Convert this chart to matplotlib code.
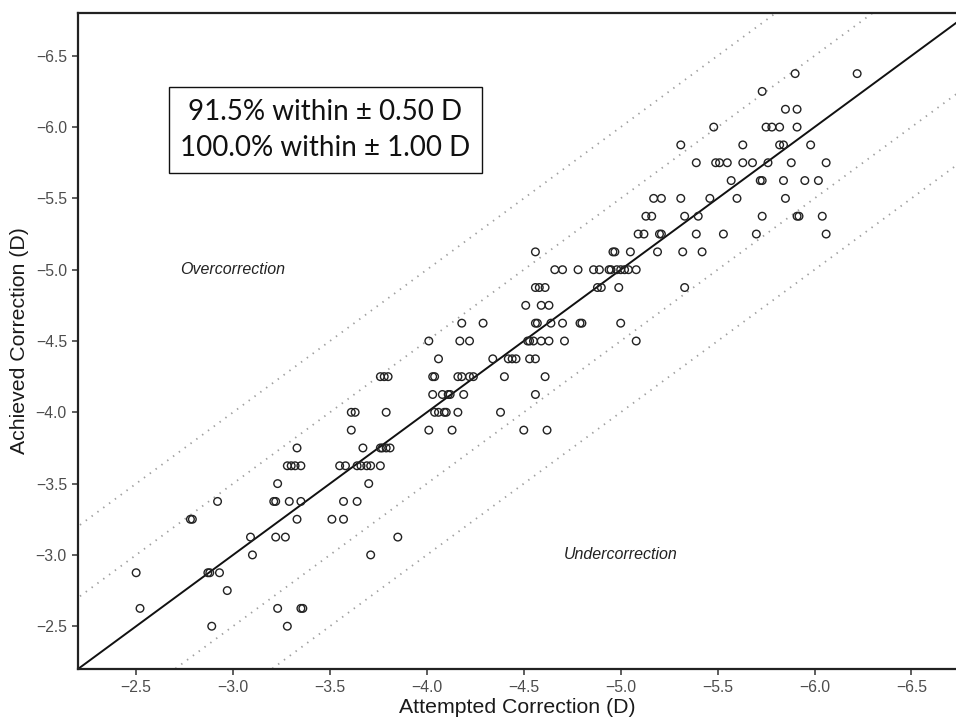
import numpy as np
import matplotlib
matplotlib.use("Agg")
import matplotlib.pyplot as plt

# achieved correction comes in 0.125 D steps, one row per level
achieved_rows = [-2.5, -2.625, -2.75, -2.875, -3.0, -3.125, -3.25, -3.375, -3.5,
                 -3.625, -3.75, -3.875, -4.0, -4.125, -4.25, -4.375, -4.5, -4.625,
                 -4.75, -4.875, -5.0, -5.125, -5.25, -5.375, -5.5, -5.625, -5.75,
                 -5.875, -6.0, -6.125, -6.25, -6.375]

attempted_rows = [
    [-2.89, -3.28],
    [-2.52, -3.23, -3.35, -3.36],
    [-2.97],
    [-2.50, -2.87, -2.88, -2.93],
    [-3.10, -3.71],
    [-3.09, -3.22, -3.27, -3.85],
    [-2.78, -2.79, -3.33, -3.51, -3.57],
    [-2.92, -3.21, -3.22, -3.29, -3.35, -3.57, -3.64],
    [-3.23, -3.70],
    [-3.28, -3.30, -3.32, -3.35, -3.55, -3.58, -3.64, -3.66, -3.69, -3.71, -3.76],
    [-3.33, -3.67, -3.76, -3.77, -3.79, -3.81],
    [-3.61, -4.01, -4.13, -4.50, -4.62],
    [-3.61, -3.63, -3.79, -4.04, -4.06, -4.09, -4.10, -4.16, -4.38],
    [-4.03, -4.08, -4.11, -4.12, -4.19, -4.56],
    [-3.76, -3.78, -3.80, -4.03, -4.04, -4.16, -4.18, -4.22, -4.24, -4.40, -4.61],
    [-4.06, -4.34, -4.42, -4.44, -4.46, -4.53, -4.56],
    [-4.01, -4.17, -4.22, -4.52, -4.53, -4.55, -4.59, -4.63, -4.71, -5.08],
    [-4.18, -4.29, -4.56, -4.57, -4.64, -4.70, -4.79, -4.80, -5.00],
    [-4.51, -4.59, -4.63],
    [-4.56, -4.58, -4.61, -4.88, -4.90, -4.99, -5.33],
    [-4.66, -4.70, -4.78, -4.86, -4.89, -4.94, -4.95, -4.98, -5.00, -5.02, -5.04, -5.08],
    [-4.56, -4.96, -4.97, -5.05, -5.19, -5.32, -5.42],
    [-5.09, -5.12, -5.20, -5.21, -5.39, -5.53, -5.70, -6.06],
    [-5.13, -5.16, -5.33, -5.40, -5.73, -5.91, -5.92, -6.04],
    [-5.17, -5.21, -5.31, -5.46, -5.60, -5.85],
    [-5.57, -5.72, -5.73, -5.84, -5.95, -6.02],
    [-5.39, -5.49, -5.51, -5.55, -5.63, -5.68, -5.76, -5.88, -6.06],
    [-5.31, -5.63, -5.82, -5.84, -5.98],
    [-5.48, -5.75, -5.78, -5.82, -5.91],
    [-5.85, -5.91],
    [-5.73],
    [-5.90, -6.22],
]

ticks = [-2.5, -3.0, -3.5, -4.0, -4.5, -5.0, -5.5, -6.0, -6.5]
offsets = [-1.0, -0.5, 0.5, 1.0]
summary = "91.5% within \u00b1 0.50 D\n100.0% within \u00b1 1.00 D"

attempted = np.concatenate([np.array(r) for r in attempted_rows])
achieved = np.concatenate([np.full(len(r), a) for r, a in zip(attempted_rows, achieved_rows)])

plt.rcParams["font.family"] = ["Liberation Sans", "DejaVu Sans"]

fig = plt.figure(figsize=(9.56, 7.19), dpi=100)
ax = fig.add_axes([78 / 956, 50 / 719, 878 / 956, 656 / 719])

xlim = (-2.2, -6.73)
ylim = (-2.2, -6.8)
line_x = np.array([-2.0, -7.0])

# identity line and +/- 0.5 D, 1.0 D bands
ax.plot(line_x, line_x, color="#111111", lw=1.4, zorder=2)
for off in offsets:
    ax.plot(line_x, line_x + off, color="#a0a0a0", lw=1.3,
            linestyle=(0, (0.8, 3.2)), zorder=1)

ax.scatter(attempted, achieved, s=30, facecolors="none",
           edgecolors="#222222", linewidths=1.0, zorder=3)

ax.set_xlim(*xlim)
ax.set_ylim(*ylim)
ax.set_xticks(ticks)
ax.set_yticks(ticks)
ax.set_xticklabels([f"{t:.1f}".replace("-", "\u2212") for t in ticks])
ax.set_yticklabels([f"{t:.1f}".replace("-", "\u2212") for t in ticks])
ax.tick_params(axis="both", labelsize=11.3, labelcolor="#4d4d4d", color="#333333",
               length=4, width=1.1, direction="out", pad=4)

for side in ["left", "bottom", "top"]:
    ax.spines[side].set_color("#222222")
    ax.spines[side].set_linewidth(1.6)
ax.spines["right"].set_visible(False)

ax.set_xlabel("Attempted Correction (D)", fontsize=15.3, color="#1a1a1a", labelpad=2)
ax.set_ylabel("Achieved Correction (D)", fontsize=15.3, color="#1a1a1a", labelpad=5)

ax.text(-3.0, -5.0, "Overcorrection", style="italic", fontsize=11.5,
        ha="center", va="center", color="#222222")
ax.text(-5.0, -3.0, "Undercorrection", style="italic", fontsize=11.5,
        ha="center", va="center", color="#222222")

ax.text(0.2819, 0.822, summary, transform=ax.transAxes, ha="center", va="center",
        multialignment="center", fontsize=20, family=["Lato", "DejaVu Sans"],
        linespacing=1.5, color="#111111",
        bbox=dict(boxstyle="square,pad=0.42", facecolor="white",
                  edgecolor="#111111", linewidth=1.0), zorder=5)

fig.savefig("out.png", dpi=100)
